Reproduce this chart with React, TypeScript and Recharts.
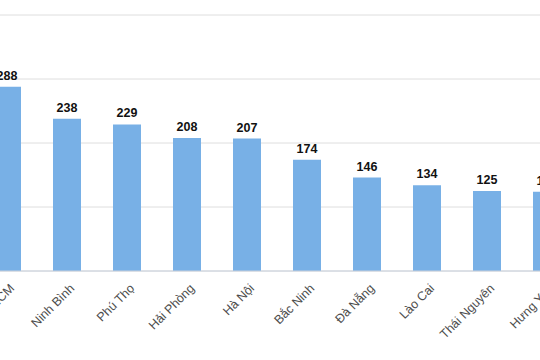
import React from "react";
import { BarChart, Bar, XAxis, YAxis, CartesianGrid, LabelList } from "recharts";

const provinces = ["TP.HCM", "Ninh Bình", "Phú Thọ", "Hải Phòng", "Hà Nội", "Bắc Ninh", "Đà Nẵng", "Lào Cai", "Thái Nguyên", "Hưng Yên"];
const counts = [288, 238, 229, 208, 207, 174, 146, 134, 125, 124];
const yTicks = [0, 100, 200, 300, 400];

const data = provinces.map((name, i) => ({ name, value: counts[i] }));

const SlantTick = (props: any) => {
  const { x, y, payload } = props;
  return (
    <g transform={`translate(${x + 5},${y + 15})`}>
      <text
        transform="rotate(-45)"
        textAnchor="end"
        dy="0.35em"
        fill="#4d4d4d"
        fontSize={12.5}
        fontFamily="Liberation Sans, Arial, sans-serif"
      >
        {payload.value}
      </text>
    </g>
  );
};

export default function App() {
  return (
    <div style={{ position: "fixed", left: 0, top: 0, width: 540, height: 360, overflow: "hidden", background: "#fff" }}>
      <div style={{ position: "absolute", left: -23, top: 0 }}>
        <BarChart
          width={600}
          height={360}
          data={data}
          margin={{ top: 15, right: 0, bottom: 0, left: 0 }}
          barSize={28}
        >
          <CartesianGrid vertical={false} stroke="#dedede" strokeWidth={1} />
          <YAxis hide domain={[0, 400]} ticks={yTicks} width={0} />
          <XAxis
            dataKey="name"
            height={89}
            interval={0}
            tickLine={false}
            tickSize={0}
            tickMargin={0}
            axisLine={{ stroke: "#c8d0dc" }}
            tick={<SlantTick />}
          />
          <Bar dataKey="value" fill="#78b0e6" isAnimationActive={false}>
            <LabelList
              dataKey="value"
              position="top"
              offset={7}
              style={{ fill: "#111", fontSize: 12.5, fontWeight: "bold", fontFamily: "Liberation Sans, Arial, sans-serif" }}
            />
          </Bar>
        </BarChart>
      </div>
    </div>
  );
}
